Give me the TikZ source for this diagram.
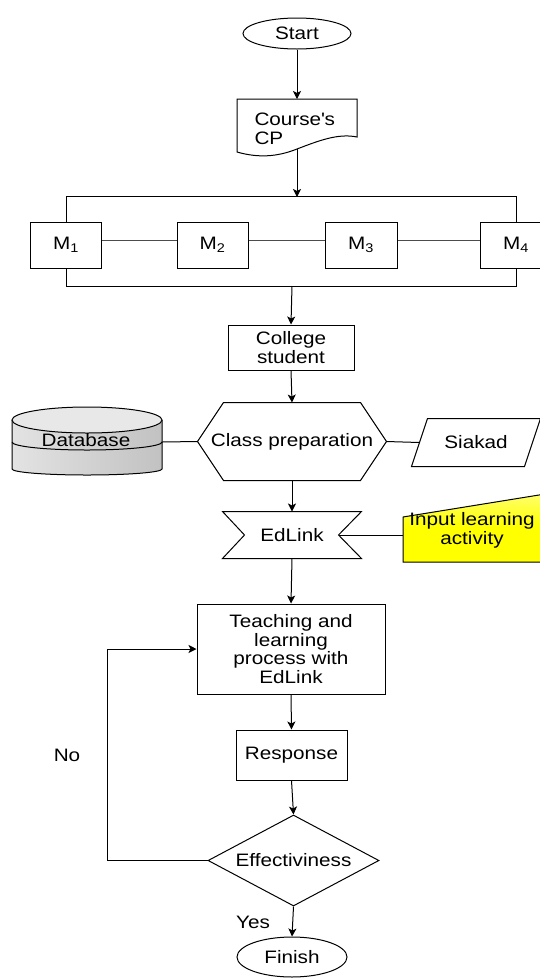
\documentclass[tikz,border=0pt]{standalone}
\usepackage{fontspec}
\setmainfont{Liberation Sans}[FakeStretch=1.15]
\usetikzlibrary{arrows.meta,shapes.geometric}
\begin{document}
\begin{tikzpicture}[x=1pt,y=-1pt,line width=1pt,
  every node/.style={font=\fontsize{18pt}{18.7pt}\selectfont, inner sep=0pt, align=center},
  box/.style={draw, rectangle, fill=white},
  oval/.style={draw, ellipse, fill=white},
  arr/.style={-{Stealth[length=8pt,width=8pt,inset=2pt]}},
  thin link/.style={draw=black!70},
]
\useasboundingbox (0,0) rectangle (539,978);

% Start
\node[oval, minimum width=108pt, minimum height=31pt] (start) at (297,33.5) {Start};

% Document: Course's CP
\draw[fill=white] (237,99) -- (357,99) -- (357,137)
   .. controls (338,133) and (318,141) .. (297,149)
   .. controls (277,157) and (258,158) .. (237,152) -- cycle;
\coordinate (docT) at (297,99);
\coordinate (docB) at (297,149);
\node[anchor=west, align=left] (doc) at (254,129) {Course\textquotesingle s\\CP};

\draw[arr] (start) -- (docT);

% Modules
\node[box, minimum width=71pt, minimum height=46pt] (M1) at (66,245) {M\textsubscript{1}};
\node[box, minimum width=71pt, minimum height=46pt] (M2) at (212.5,245) {M\textsubscript{2}};
\node[box, minimum width=72pt, minimum height=46pt] (M3) at (361,245) {M\textsubscript{3}};
\node[box, minimum width=72pt, minimum height=46pt] (M4) at (516,245) {M\textsubscript{4}};
\draw[thin link] ([yshift=5pt]M1.east) -- ([yshift=5pt]M2.west);
\draw[thin link] ([yshift=5pt]M2.east) -- ([yshift=5pt]M3.west);
\draw[thin link] ([yshift=5pt]M3.east) -- ([yshift=5pt]M4.west);
\draw (M1.north) -- ++(0,-25) -| (M4.north);
\draw (M1.south) -- ++(0,18) -| (M4.south);
\coordinate (brT) at (297,197);
\coordinate (brB) at (292,286);
\draw[arr] (docB) -- (brT);

% College student
\node[box, minimum width=126pt, minimum height=45pt] (college) at (291,347.5) {College\\student};
\draw[arr] (brB) -- (college.north);

% Class preparation (hexagon)
\node[minimum width=188pt, minimum height=77pt] (hex) at (292,441.5) {Class preparation};
\draw ([xshift=26pt]hex.north west) -- ([xshift=-26pt]hex.north east) -- (hex.east)
   -- ([xshift=-26pt]hex.south east) -- ([xshift=26pt]hex.south west) -- (hex.west) -- cycle;
\draw[arr] (college.south) -- (hex.north);

% Database (cylinder)
\shade[left color=gray!22, right color=gray!48] (12,420) -- (12,469) arc[start angle=180, end angle=0, x radius=75, y radius=6] -- (162,420) -- cycle;
\draw (12,420) -- (12,469) arc[start angle=180, end angle=0, x radius=75, y radius=6] -- (162,420);
\draw (12,442) arc[start angle=180, end angle=0, x radius=75, y radius=8];
\draw[fill=gray!18] (87,420) ellipse[x radius=75, y radius=13];
\node (db) at (86,440) {Database};
\coordinate (dbR) at (162,442);
\draw (dbR) -- (hex.west);

% Siakad (parallelogram)
\node[minimum width=128pt, minimum height=47pt] (siak) at (476,442.5) {Siakad};
\draw ([xshift=16pt]siak.north west) -- (siak.north east) -- ([xshift=-16pt]siak.south east) -- (siak.south west) -- cycle;
\draw (hex.east) -- ([xshift=8pt]siak.west);

% EdLink
\node[minimum width=138pt, minimum height=46pt] (ed) at (292,535) {EdLink};
\draw (ed.north west) -- (ed.north east) -- ([xshift=-23pt]ed.east) -- (ed.south east)
   -- (ed.south west) -- ([xshift=22pt]ed.west) -- cycle;
\draw[arr] (hex.south) -- (ed.north);

% Input learning activity (manual input)
\shade[draw=black, top color=yellow!55!white, bottom color=yellow, middle color=yellow]
   (403,517) -- (560,491.6) -- (560,562) -- (403,562) -- cycle;
\node (inp) at (472,530) {Input learning\\activity};
\coordinate (inpL) at (403,535);
\draw ([xshift=-23pt]ed.east) -- (inpL);

% Teaching and learning process
\node[box, minimum width=188pt, minimum height=90pt] (teach) at (291,649) {Teaching and\\learning\\process with\\EdLink};
\draw[arr] (ed.south) -- (teach.north);

% Response
\node[box, minimum width=111pt, minimum height=50pt] (resp) at (291.5,755) {Response};
\draw[arr] (teach.south) -- (resp.north);

% Effectiveness decision
\node[draw, diamond, aspect=1.88, minimum width=171pt, minimum height=91pt, fill=white] (eff) at (293.5,860.5) {Effectiviness};
\draw[arr] (resp.south) -- (eff.north);

% Finish
\node[oval, minimum width=110pt, minimum height=40pt] (finish) at (292,957) {Finish};
\draw[arr] (eff.south) -- (finish.north);

% Loop back (No)
\coordinate (loopx) at (107,0);
\draw[arr] (eff.west) -- (eff.west -| loopx) |- (teach.west);

\node (no) at (67,755) {No};
\node (yes) at (253,922) {Yes};
\end{tikzpicture}
\end{document}
